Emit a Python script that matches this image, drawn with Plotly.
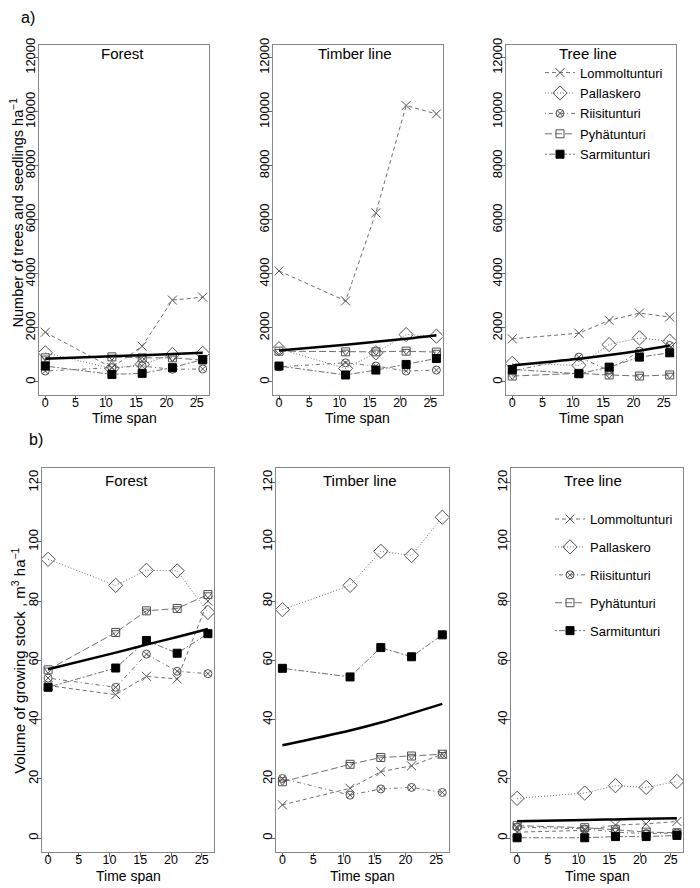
import plotly.graph_objects as go

time_span = [0, 11, 16, 21, 26]
sites = ["Lommoltunturi", "Pallaskero", "Riisitunturi", "Pyhätunturi", "Sarmitunturi"]
zones = ["Forest", "Timber line", "Tree line"]
x_ticks = [0, 5, 10, 15, 20, 25]
a_ticks = [0, 2000, 4000, 6000, 8000, 10000, 12000]
b_ticks = [0, 20, 40, 60, 80, 100, 120]

# a) Number of trees and seedlings per ha  (Forest, Timber line, Tree line)
a_lommoltunturi = [[1840, 530, 1325, 3030, 3140], [4110, 3000, 6260, 10230, 9920], [1595, 1805, 2280, 2550, 2405]]
a_pallaskero = [[1080, 500, 650, 1015, 1060], [1230, 500, 1080, 1755, 1695], [690, 615, 1385, 1630, 1510]]
a_riisitunturi = [[405, 530, 590, 470, 480], [560, 710, 590, 405, 440], [405, 920, 430, 1140, 1350]]
a_pyhatunturi = [[895, 930, 895, 895, 810], [1140, 1115, 1115, 1140, 1105], [220, 320, 260, 220, 260]]
a_sarmitunturi = [[590, 280, 320, 530, 835], [590, 260, 440, 650, 870], [465, 305, 550, 920, 1080]]
a_trend = [[860, 950, 990, 1035, 1080], [1165, 1380, 1490, 1600, 1730], [613, 856, 996, 1160, 1350]]

# b) Volume of growing stock m3/ha
b_lommoltunturi = [[51.5, 48.4, 54.6, 53.7, 80.0], [11.2, 16.8, 22.4, 24.4, 28.3], [2.0, 2.6, 4.4, 4.8, 5.6]]
b_pallaskero = [[94.1, 85.3, 90.4, 90.2, 76.2], [77.1, 85.3, 96.8, 95.4, 108.3], [13.4, 15.2, 17.7, 17.1, 19.1]]
b_riisitunturi = [[54.0, 50.9, 62.1, 56.3, 55.5], [20.1, 14.5, 16.6, 17.1, 15.4], [3.7, 3.1, 2.0, 1.5, 1.7]]
b_pyhatunturi = [[56.8, 69.4, 76.7, 77.5, 82.2], [19.0, 24.9, 27.2, 27.7, 28.3], [4.2, 3.5, 2.8, 2.0, 1.8]]
b_sarmitunturi = [[50.9, 57.4, 66.7, 62.4, 69.0], [57.3, 54.4, 64.3, 61.2, 68.6], [0.1, 0.1, 0.5, 0.5, 0.9]]
b_trend = [[57.0, 62.6, 65.3, 67.9, 70.6], [31.3, 36.3, 39.0, 42.1, 45.3], [5.7, 6.1, 6.3, 6.5, 6.7]]

# page has an 8px body margin: figure is 692x880 and reference pixel p maps to p-8
OFF = 8
W, H = 700 - OFF, 888 - OFF
FONT = "Liberation Sans, Arial, sans-serif"
GRAY_LINE = "#707070"
GRAY_MK = "#505050"

def px(v):
    return (v - OFF) / W

def py(v):
    return 1 - (v - OFF) / H

styles = {
    "Lommoltunturi": dict(dash="4px,3px", symbol="x-thin-open", size=9, fill=None),
    "Pallaskero": dict(dash="1px,2px", symbol="diamond-open", size=11, fill=None),
    "Riisitunturi": dict(dash="1px,3px,4px,3px", symbol="circle-x-open", size=8, fill=None),
    "Pyhätunturi": dict(dash="7px,3px", symbol="square-open", size=8, fill=None),
    "Sarmitunturi": dict(dash="2px,2px,6px,2px", symbol="square", size=8, fill="black"),
}

a_data = {"Lommoltunturi": a_lommoltunturi, "Pallaskero": a_pallaskero, "Riisitunturi": a_riisitunturi,
          "Pyhätunturi": a_pyhatunturi, "Sarmitunturi": a_sarmitunturi}
b_data = {"Lommoltunturi": b_lommoltunturi, "Pallaskero": b_pallaskero, "Riisitunturi": b_riisitunturi,
          "Pyhätunturi": b_pyhatunturi, "Sarmitunturi": b_sarmitunturi}

# reference pixel boxes of the panels (left, right, top, bottom)
boxes = [
    (39, 209, 38, 391), (272.7, 442.7, 38, 391), (506, 676, 38, 391),
    (41.7, 214.3, 465, 852), (276, 448.7, 465, 852), (510.7, 683.3, 465, 852),
]

fig = go.Figure()

def add_panel(idx, data, trend, zi, legend_name):
    ax = "" if idx == 1 else str(idx)
    for s in sites:
        st = styles[s]
        show = (zi == 2)
        mk = dict(symbol=st["symbol"], size=st["size"],
                  color=st["fill"] if st["fill"] else GRAY_MK,
                  line=dict(color="black" if st["fill"] else GRAY_MK, width=1))
        fig.add_trace(go.Scatter(
            x=time_span, y=data[s][zi], mode="lines+markers", name=s,
            line=dict(color=GRAY_LINE, width=1, dash=st["dash"]),
            marker=mk, showlegend=show, legend=legend_name, legendgroup=legend_name + s,
            xaxis="x" + ax, yaxis="y" + ax))
        if s == "Pyhätunturi":
            fig.add_trace(go.Scatter(
                x=time_span, y=data[s][zi], mode="markers",
                marker=dict(symbol="triangle-down-open", size=7, color=GRAY_MK,
                            line=dict(color=GRAY_MK, width=1)),
                showlegend=False, hoverinfo="skip", xaxis="x" + ax, yaxis="y" + ax))
    fig.add_trace(go.Scatter(
        x=time_span, y=trend[zi], mode="lines", line=dict(color="black", width=2.5, shape="spline"),
        showlegend=False, xaxis="x" + ax, yaxis="y" + ax))

for zi in range(3):
    add_panel(zi + 1, a_data, a_trend, zi, "legend")
    add_panel(zi + 4, b_data, b_trend, zi, "legend2")

layout = dict(
    width=W, height=H, margin=dict(l=0, r=0, t=0, b=0),
    paper_bgcolor="white", plot_bgcolor="white",
    font=dict(family=FONT, color="black", size=13),
    showlegend=True,
)

for i, (l, r, t, b) in enumerate(boxes, start=1):
    key = "" if i == 1 else str(i)
    top_row = i <= 3
    yt = a_ticks if top_row else b_ticks
    layout["xaxis" + key] = dict(
        domain=[px(l), px(r)], range=[-1.04, 27.04], anchor="y" + key,
        tickvals=x_ticks, ticktext=[str(v) for v in x_ticks], ticks="outside", ticklen=4, tickcolor="#666",
        ticklabelstandoff=-8,
        showline=True, linecolor="#888", linewidth=1, mirror=True,
        showgrid=False, zeroline=False, tickfont=dict(size=12.5, family=FONT, color="black"))
    layout["yaxis" + key] = dict(
        domain=[py(b), py(t)],
        range=[-480, 12480] if top_row else [-4.8, 124.8], anchor="x" + key,
        tickvals=yt, ticktext=[str(v) for v in yt], ticks="outside", ticklen=4, tickcolor="#666",
        ticklabelstandoff=-6,
        tickangle=-90, showline=True, linecolor="#888", linewidth=1, mirror=True,
        showgrid=False, zeroline=False, tickfont=dict(size=13, family=FONT, color="black"))

layout["legend"] = dict(x=px(540), y=py(51), xanchor="left", yanchor="top",
                        bgcolor="rgba(0,0,0,0)", borderwidth=0, tracegroupgap=0.5,
                        font=dict(size=13, family=FONT), itemwidth=30)
layout["legend2"] = dict(x=px(550), y=py(501), xanchor="left", yanchor="top",
                         bgcolor="rgba(0,0,0,0)", borderwidth=0, tracegroupgap=8,
                         font=dict(size=13, family=FONT), itemwidth=30)

annotations = []
title_pos = [(122, 47), (355, 47), (588, 47), (126, 477), (360, 477), (593, 477)]
for (tx, ty), z in zip(title_pos, zones + zones):
    annotations.append(dict(x=px(tx), y=py(ty), xref="paper", yref="paper", text=z,
                            xanchor="center", yanchor="middle",
                            showarrow=False, font=dict(size=15, family=FONT)))
for (l, r, t, b) in boxes:
    ty = 414 if b < 400 else 876
    annotations.append(dict(x=px((l + r) / 2), y=py(ty), xref="paper", yref="paper",
                            xanchor="center", yanchor="middle",
                            text="Time span", showarrow=False, font=dict(size=14, family=FONT)))
annotations.append(dict(x=px(17), y=py(207), xref="paper", yref="paper", textangle=-90,
                        xanchor="center", yanchor="middle",
                        text="Number of trees and seedlings ha<sup>\u22121</sup>", showarrow=False,
                        font=dict(size=14.5, family=FONT)))
annotations.append(dict(x=px(19), y=py(659), xref="paper", yref="paper", textangle=-90,
                        xanchor="center", yanchor="middle",
                        text="Volume of growing stock , m<sup>3</sup> ha<sup>\u22121</sup>", showarrow=False,
                        font=dict(size=15, family=FONT)))
annotations.append(dict(x=px(28), y=py(11), xref="paper", yref="paper", text="a)",
                        xanchor="center", yanchor="middle",
                        showarrow=False, font=dict(size=16, family=FONT)))
annotations.append(dict(x=px(36), y=py(436), xref="paper", yref="paper", text="b)",
                        xanchor="center", yanchor="middle",
                        showarrow=False, font=dict(size=16, family=FONT)))
layout["annotations"] = annotations

fig.update_layout(**layout)
fig.write_html("out.html")
